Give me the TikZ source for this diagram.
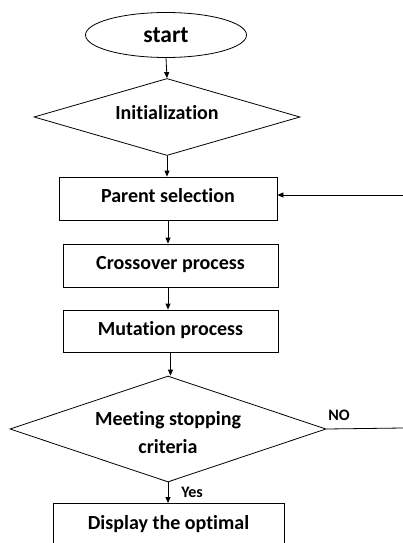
\documentclass[tikz,border=0pt]{standalone}
\usepackage{fontspec}
\setmainfont{Carlito}[Ligatures={NoCommon}]
\usetikzlibrary{shapes.geometric,arrows.meta}
\begin{document}
\begin{tikzpicture}[x=1pt,y=-1pt,
  line width=0.8pt,
  every node/.style={font=\fontsize{20}{28}\selectfont\bfseries, inner sep=0pt},
  procbox/.style={draw, rectangle, minimum width=#1, minimum height=43pt, text height=16pt, text depth=8pt},
  decbox/.style={draw, diamond, aspect=3.2},
  arr/.style={-{Triangle[length=6pt,width=5pt]}},
  lbl/.style={font=\fontsize{16}{19}\selectfont\bfseries}
]
\path[use as bounding box] (0,0) rectangle (403,543);
\clip (0,0) rectangle (403,543);
\node[draw, ellipse, minimum width=161pt, minimum height=45pt, font=\fontsize{23.5}{28}\selectfont\bfseries, text height=16pt, text depth=2pt] (start) at (166,35) {start};
\node[decbox, minimum width=266pt, minimum height=77pt, text height=12pt, text depth=8pt] (init) at (167,117) {Initialization};
\node[procbox=218pt] (ps) at (168,198.5) {Parent selection};
\node[procbox=215pt] (co) at (170.5,265.5) {Crossover process};
\node[procbox=215pt, minimum height=42pt] (mu) at (170.5,331) {Mutation process};
\node[decbox, minimum width=316pt, minimum height=106pt,
  label={[align=center, yshift=-4pt]center:Meeting stopping\\criteria}] (mc) at (168,429) {};
\node[draw, rectangle, minimum width=231pt, anchor=north, text height=26.5pt, text depth=42pt] (disp) at (168.5,503) {Display the optimal};
\coordinate (r1) at (403,195);
\coordinate (r2) at (403,428);
\draw[arr] (start.south) -- (init.north);
\draw[arr] (init.south) -- (init.south |- ps.north);
\draw[arr] (ps.south) -- (ps.south |- co.north);
\draw[arr] (co.south -| ps.south) -- (ps.south |- mu.north);
\draw[arr] (mu.south) -- (mu.south |- mc.north);
\draw[arr] (mc.south) -- (mc.south |- disp.north);
\draw[arr] (r1) -- (r1 -| ps.east);
\draw (mc.east) -- (r2);
\node[lbl, anchor=west] (yes) at (181,492) {Yes};
\node[lbl, anchor=west] (no) at (328,415.5) {NO};
\end{tikzpicture}
\end{document}
